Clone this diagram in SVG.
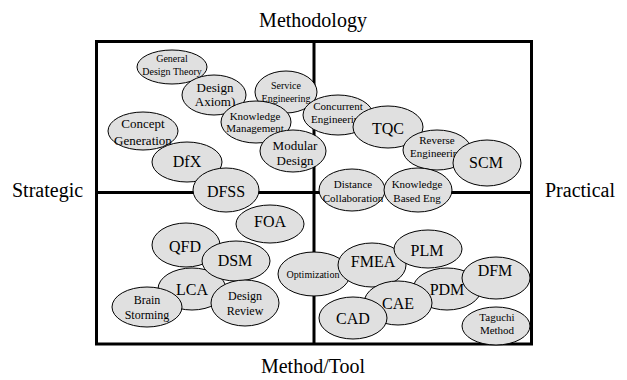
<svg xmlns="http://www.w3.org/2000/svg" width="627" height="380" viewBox="0 0 627 380">
  <style>
    .axis { font-family: "Liberation Serif", "Times New Roman", serif; font-size: 20px; fill: #000; }
    .frame { fill: none; stroke: #000; stroke-width: 3; }
    .node ellipse { fill: #e0e0e0; stroke: #000; stroke-width: 1; }
    .node text { font-family: "Liberation Serif", "Times New Roman", serif; fill: #000; text-anchor: middle; }
    .lg { font-size: 16px; }
    .md { font-size: 13px; }
    .ms { font-size: 12px; }
    .sm { font-size: 11px; }
    .xs { font-size: 10px; }
  </style>

  <!-- axis captions -->
  <text class="axis" x="313" y="27" text-anchor="middle">Methodology</text>
  <text class="axis" x="12" y="197">Strategic</text>
  <text class="axis" x="545" y="197">Practical</text>
  <text class="axis" x="313" y="373" text-anchor="middle">Method/Tool</text>

  <!-- quadrant frame -->
  <g id="frame">
    <rect class="frame" x="96.5" y="41.5" width="435" height="302.5"/>
    <line class="frame" x1="314" y1="41.5" x2="314" y2="344"/>
    <line class="frame" x1="96.5" y1="192.5" x2="531.5" y2="192.5"/>
  </g>

  <!-- upper left: strategic methodology -->
  <g id="gdt" class="node"><ellipse cx="172" cy="67" rx="35" ry="17"/><text class="xs" x="172" y="62">General</text><text class="xs" x="172" y="75">Design Theory</text></g>
  <g id="service" class="node"><ellipse cx="286" cy="92" rx="31" ry="21"/><text class="xs" x="286" y="89">Service</text><text class="xs" x="286" y="102">Engineering</text></g>
  <g id="axiom" class="node"><ellipse cx="214" cy="95" rx="32" ry="20"/><text class="md" x="215" y="92">Design</text><text class="md" x="215" y="106">Axiom)</text></g>
  <g id="km" class="node"><ellipse cx="256" cy="122" rx="35" ry="21"/><text class="sm" x="255" y="120">Knowledge</text><text class="sm" x="255" y="132">Management</text></g>
  <g id="concept" class="node"><ellipse cx="143" cy="131" rx="35" ry="19"/><text class="md" x="143" y="128">Concept</text><text class="md" x="143" y="145">Generation</text></g>
  <g id="dfx" class="node"><ellipse cx="187" cy="162" rx="35" ry="20"/><text class="lg" x="187" y="167">DfX</text></g>
  <g id="modular" class="node"><ellipse cx="293" cy="151" rx="33" ry="21"/><text class="md" x="295" y="150">Modular</text><text class="md" x="295" y="165">Design</text></g>

  <!-- upper right: practical methodology -->
  <g id="concurrent" class="node"><ellipse cx="338" cy="115" rx="35" ry="20"/><text class="sm" x="338" y="110">Concurrent</text><text class="sm" x="338" y="123">Engineering</text></g>
  <g id="tqc" class="node"><ellipse cx="388" cy="127" rx="35" ry="21"/><text class="lg" x="388" y="134">TQC</text></g>
  <g id="reverse" class="node"><ellipse cx="437" cy="150" rx="34" ry="20"/><text class="sm" x="437" y="144">Reverse</text><text class="sm" x="437" y="157">Engineering</text></g>
  <g id="scm" class="node"><ellipse cx="487" cy="163" rx="34" ry="23"/><text class="lg" x="486" y="168">SCM</text></g>
  <g id="distance" class="node"><ellipse cx="352" cy="190" rx="33" ry="21"/><text class="sm" x="353" y="188">Distance</text><text class="sm" x="353" y="202">Collaboration</text></g>
  <g id="kbe" class="node"><ellipse cx="418" cy="190" rx="34" ry="22"/><text class="sm" x="417" y="188">Knowledge</text><text class="sm" x="417" y="202">Based Eng</text></g>

  <!-- lower left: strategic method/tool -->
  <g id="dfss" class="node"><ellipse cx="226" cy="190" rx="33" ry="22"/><text class="lg" x="226" y="197">DFSS</text></g>
  <g id="foa" class="node"><ellipse cx="270" cy="224" rx="34" ry="19"/><text class="lg" x="270" y="227">FOA</text></g>
  <g id="qfd" class="node"><ellipse cx="186" cy="245" rx="34" ry="22"/><text class="lg" x="185" y="252">QFD</text></g>
  <g id="lca" class="node"><ellipse cx="192" cy="289" rx="34" ry="21"/><text class="lg" x="192" y="295">LCA</text></g>
  <g id="dsm" class="node"><ellipse cx="236" cy="261" rx="34" ry="20"/><text class="lg" x="235" y="266">DSM</text></g>
  <g id="brain" class="node"><ellipse cx="147" cy="307" rx="35" ry="20"/><text class="ms" x="147" y="304">Brain</text><text class="ms" x="147" y="319">Storming</text></g>
  <g id="review" class="node"><ellipse cx="245" cy="303" rx="34" ry="23"/><text class="ms" x="245" y="300">Design</text><text class="ms" x="245" y="315">Review</text></g>

  <!-- lower right: practical method/tool -->
  <g id="optimization" class="node"><ellipse cx="314" cy="274" rx="36" ry="22"/><text class="xs" x="313" y="278">Optimization</text></g>
  <g id="fmea" class="node"><ellipse cx="372" cy="265" rx="34" ry="22"/><text class="lg" x="373" y="267">FMEA</text></g>
  <g id="plm" class="node"><ellipse cx="428" cy="249" rx="34" ry="19"/><text class="lg" x="427" y="256">PLM</text></g>
  <g id="pdm" class="node"><ellipse cx="447" cy="289" rx="34" ry="21"/><text class="lg" x="447" y="295">PDM</text></g>
  <g id="dfm" class="node"><ellipse cx="496" cy="278" rx="34" ry="21"/><text class="lg" x="495" y="276">DFM</text></g>
  <g id="cae" class="node"><ellipse cx="398" cy="303" rx="34" ry="22"/><text class="lg" x="398" y="309">CAE</text></g>
  <g id="cad" class="node"><ellipse cx="353" cy="318" rx="34" ry="21"/><text class="lg" x="353" y="324">CAD</text></g>
  <g id="taguchi" class="node"><ellipse cx="496" cy="326" rx="34" ry="19"/><text class="sm" x="497" y="321">Taguchi</text><text class="sm" x="497" y="334">Method</text></g>
</svg>
